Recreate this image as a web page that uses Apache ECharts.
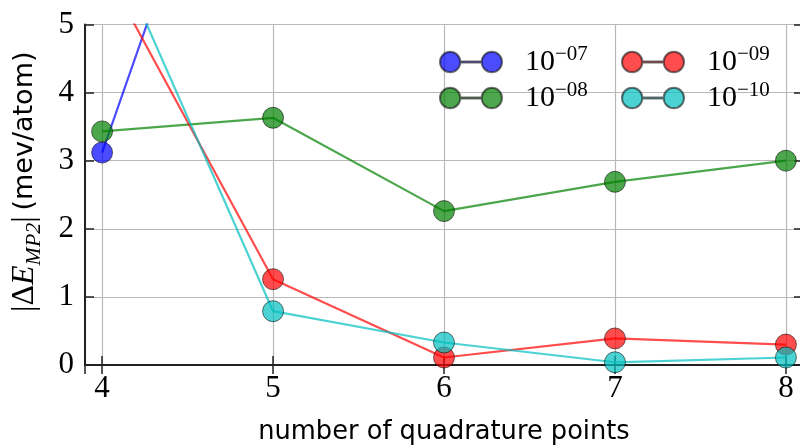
<!DOCTYPE html>
<html>
<head>
<meta charset="utf-8">
<script src="https://cdn.jsdelivr.net/npm/echarts@6/dist/echarts.min.js"></script>
<style>
  html, body { margin: 0; padding: 0; background: #fff; }
  #chart { width: 800px; height: 448px; }
</style>
</head>
<body>
<div id="chart"></div>
<script>
// Number of quadrature points on the x axis
const quadPoints = [4, 5, 6, 7, 8];

// |ΔE_MP2| in meV/atom for each convergence threshold
const tol1e07 = [3.12, 10.3, 9.6, 9.9, 9.8];
const tol1e08 = [3.43, 3.63, 2.26, 2.69, 3.00];
const tol1e09 = [5.88, 1.26, 0.11, 0.39, 0.30];
const tol1e10 = [6.49, 0.79, 0.33, 0.04, 0.11];

const seriesNames = ['1e-07', '1e-08', '1e-09', '1e-10'];
const seriesLabels = ['−07', '−08', '−09', '−10'];
const seriesValues = [tol1e07, tol1e08, tol1e09, tol1e10];
const seriesColors = ['0,0,255', '0,128,0', '255,0,0', '0,191,191'];

const yTicks = [0, 1, 2, 3, 4, 5];

const serif = 'Liberation Serif';
const sans = 'DejaVu Sans';
const frame = '#222';
const gridColor = '#b9b9b9';

const chart = echarts.init(document.getElementById('chart'), null, { renderer: 'canvas' });

const series = seriesNames.map((name, i) => ({
  name: name,
  type: 'line',
  data: quadPoints.map((x, j) => [x, seriesValues[i][j]]),
  symbol: 'circle',
  symbolSize: 21,
  clip: true,
  lineStyle: { color: `rgba(${seriesColors[i]},0.7)`, width: 2.2 },
  itemStyle: {
    color: `rgba(${seriesColors[i]},0.7)`,
    borderColor: 'rgba(0,0,0,0.55)',
    borderWidth: 1
  },
  emphasis: { disabled: true },
  z: 3 + i
}));

// two markers joined by a short line segment
const legendIcon = 'path://M0.5,10.5a10,10 0 1,0 20,0a10,10 0 1,0 -20,0z' +
  'M41.5,10.5a10,10 0 1,0 20,0a10,10 0 1,0 -20,0z M20.5,10h21v1h-21z';

function legendBlock(names, left) {
  return {
    data: names,
    orient: 'vertical',
    left: left,
    top: 44,
    padding: 0,
    itemWidth: 62,
    itemHeight: 21,
    itemGap: 3,
    icon: legendIcon,
    selectedMode: false,
    formatter: function (name) {
      return '{n|10}{s|' + seriesLabels[seriesNames.indexOf(name)] + '}';
    },
    textStyle: {
      padding: [0, 0, 0, 18],
      rich: {
        n: { fontFamily: serif, fontSize: 30, lineHeight: 36, color: '#000' },
        s: { fontFamily: serif, fontSize: 21, lineHeight: 18, verticalAlign: 'top', color: '#000' }
      }
    }
  };
}

const axisLineStyle = { show: true, lineStyle: { color: frame, width: 2 } };
const tickStyle = { show: true, inside: true, length: 9, lineStyle: { color: frame, width: 1.5 } };

chart.setOption({
  animation: false,
  backgroundColor: '#fff',
  grid: { left: 85, top: 24.5, width: 718, height: 340.5, outerBoundsMode: 'none', containLabel: false },
  legend: [
    legendBlock(['1e-07', '1e-08'], 439),
    legendBlock(['1e-09', '1e-10'], 621)
  ],
  xAxis: [
    {
      type: 'value',
      min: 3.9,
      max: 8.1,
      splitNumber: 4,
      position: 'bottom',
      name: 'number of quadrature points',
      nameLocation: 'middle',
      nameGap: 54,
      nameTextStyle: { fontFamily: sans, fontSize: 25.7, color: '#000' },
      axisLine: axisLineStyle,
      axisTick: tickStyle,
      axisLabel: {
        fontFamily: serif, fontSize: 31, color: '#000', margin: 8,
        formatter: v => (Number.isInteger(v) ? String(v) : '')
      },
      splitLine: { show: true, lineStyle: { color: gridColor, width: 1.2 } }
    },
    {
      type: 'value',
      min: 3.9,
      max: 8.1,
      splitNumber: 4,
      position: 'top',
      axisLine: axisLineStyle,
      axisTick: tickStyle,
      axisLabel: { show: false },
      splitLine: { show: false }
    }
  ],
  yAxis: [
    {
      type: 'value',
      min: yTicks[0],
      max: yTicks[yTicks.length - 1],
      interval: 1,
      position: 'left',
      name: '{m||Δ}{i|E}{sub|MP2}{m||}{sp| }{s|(mev/atom)}',
      nameLocation: 'middle',
      nameRotate: 90,
      nameGap: 40,
      nameTextStyle: {
        padding: [0, 0, 0, 26],
        rich: {
          m: { fontFamily: serif, fontSize: 32, lineHeight: 40, color: '#000' },
          i: { fontFamily: serif, fontStyle: 'italic', fontSize: 32, lineHeight: 40, color: '#000' },
          sub: { fontFamily: serif, fontStyle: 'italic', fontSize: 22, lineHeight: 22, verticalAlign: 'bottom', color: '#000' },
          sp: { fontFamily: sans, fontSize: 18, lineHeight: 40, color: '#000' },
          s: { fontFamily: sans, fontSize: 27, lineHeight: 40, color: '#000' }
        }
      },
      axisLine: axisLineStyle,
      axisTick: tickStyle,
      axisLabel: { fontFamily: serif, fontSize: 31, color: '#000', margin: 11 },
      splitLine: { show: true, lineStyle: { color: gridColor, width: 1.2 } }
    },
    {
      type: 'value',
      min: yTicks[0],
      max: yTicks[yTicks.length - 1],
      interval: 1,
      position: 'right',
      axisLine: axisLineStyle,
      axisTick: tickStyle,
      axisLabel: { show: false },
      splitLine: { show: false }
    }
  ],
  series: series
});
</script>
</body>
</html>
